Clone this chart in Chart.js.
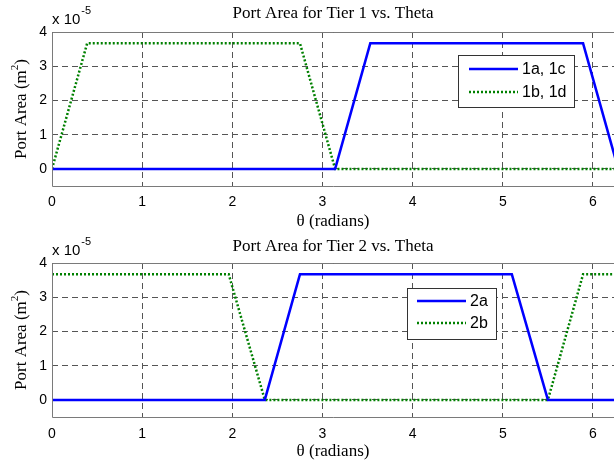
<!DOCTYPE html>
<html>
<head>
<meta charset="utf-8">
<script src="https://cdn.jsdelivr.net/npm/chart.js@4.4.1/dist/chart.umd.min.js"></script>
<style>
html,body{margin:0;padding:0;background:#fff;}
#wrap{position:relative;width:614px;height:468px;}
canvas{position:absolute;left:0;}
</style>
</head>
<body>
<div id="wrap">
<canvas id="c1" width="614" height="234" style="top:0"></canvas>
<canvas id="c2" width="614" height="234" style="top:234px"></canvas>
</div>
<script>
// ---- data (theta in radians, area in m^2) ----
const xTicks = [0, 1, 2, 3, 4, 5, 6];
const yTicks = [0, 1e-5, 2e-5, 3e-5, 4e-5];

const tier1Labels = ['1a, 1c', '1b, 1d'];
const tier1A_theta = [0, 3.14, 3.53, 5.89, 6.28];
const tier1A_area  = [0, 0, 3.67e-5, 3.67e-5, 0];
const tier1B_theta = [0, 0.39, 2.75, 3.14, 6.28];
const tier1B_area  = [0, 3.67e-5, 3.67e-5, 0, 0];

const tier2Labels = ['2a', '2b'];
const tier2A_theta = [0, 2.36, 2.75, 5.10, 5.50, 6.28];
const tier2A_area  = [0, 0, 3.67e-5, 3.67e-5, 0, 0];
const tier2B_theta = [0, 1.96, 2.36, 5.50, 5.89, 6.28];
const tier2B_area  = [3.67e-5, 3.67e-5, 0, 0, 3.67e-5, 3.67e-5];

const titles = ['Port Area for Tier 1 vs. Theta', 'Port Area for Tier 2 vs. Theta'];

function pts(xs, ys) { return xs.map((x, i) => ({x: x, y: ys[i]})); }

const SERIF = '"Liberation Serif", "Times New Roman", serif';
const SANS = '"Liberation Sans", Arial, sans-serif';

const decor = {
  id: 'decor',
  afterDraw(chart, args, o) {
    const ctx = chart.ctx, a = chart.chartArea;
    ctx.save();
    // frame
    ctx.strokeStyle = '#7a7a7a';
    ctx.lineWidth = 1;
    ctx.setLineDash([]);
    ctx.beginPath();
    ctx.moveTo(a.right, a.top + 0.5); ctx.lineTo(a.left + 0.5, a.top + 0.5);
    ctx.lineTo(a.left + 0.5, a.bottom + 0.5); ctx.lineTo(a.right, a.bottom + 0.5);
    ctx.stroke();
    const cx = (a.left + a.right) / 2;
    ctx.fillStyle = '#000';
    // title
    ctx.font = '17px ' + SERIF;
    ctx.textAlign = 'center'; ctx.textBaseline = 'middle';
    ctx.fillText(o.title, cx, o.titleY);
    // x axis title
    ctx.fillText('\u03b8 (radians)', cx, o.xTitleY);
    // exponent
    ctx.font = '15px ' + SANS;
    ctx.textAlign = 'left';
    ctx.fillText('x 10', a.left, o.expY);
    const w = ctx.measureText('x 10').width;
    ctx.font = '11px ' + SANS;
    ctx.fillText('-5', a.left + w + 1, o.expY - 9);
    // y axis title (rotated)
    ctx.translate(22, (a.top + a.bottom) / 2);
    ctx.rotate(-Math.PI / 2);
    ctx.font = '17px ' + SERIF;
    const t1 = 'Port Area (m', t2 = '2', t3 = ')';
    const w1 = ctx.measureText(t1).width, w3 = ctx.measureText(t3).width;
    ctx.font = '11px ' + SERIF;
    const w2 = ctx.measureText(t2).width;
    let x0 = -(w1 + w2 + w3) / 2;
    ctx.font = '17px ' + SERIF;
    ctx.fillText(t1, x0, 0);
    ctx.font = '11px ' + SERIF;
    ctx.fillText(t2, x0 + w1, -7);
    ctx.font = '17px ' + SERIF;
    ctx.fillText(t3, x0 + w1 + w2, 0);
    ctx.setTransform(1, 0, 0, 1, 0, 0);
    // legend
    const L = o.legend;
    ctx.fillStyle = '#fff';
    ctx.fillRect(L.x, L.y, L.w, L.h);
    ctx.strokeStyle = '#333';
    ctx.lineWidth = 1;
    ctx.strokeRect(L.x + 0.5, L.y + 0.5, L.w, L.h);
    chart.data.datasets.forEach((ds, i) => {
      const yy = L.y + L.rows[i];
      ctx.strokeStyle = ds.borderColor;
      ctx.lineWidth = ds.borderWidth;
      ctx.setLineDash(ds.borderDash || []);
      ctx.beginPath();
      ctx.moveTo(L.x + L.lx0, yy); ctx.lineTo(L.x + L.lx1, yy);
      ctx.stroke();
      ctx.setLineDash([]);
      ctx.fillStyle = '#000';
      ctx.font = '16px ' + SANS;
      ctx.textAlign = 'left'; ctx.textBaseline = 'middle';
      ctx.fillText(ds.label, L.x + L.tx, yy + 1);
    });
    ctx.restore();
  }
};

function makeChart(id, labels, aX, aY, bX, bY, title, cfg) {
  return new Chart(document.getElementById(id), {
    type: 'line',
    data: {
      datasets: [
        {label: labels[0], data: pts(aX, aY), borderColor: '#0000ff', borderWidth: 2.5,
         pointRadius: 0, tension: 0, order: 1},
        {label: labels[1], data: pts(bX, bY), borderColor: '#008000', borderWidth: 2.5,
         borderDash: [2, 2], pointRadius: 0, tension: 0, order: 2}
      ]
    },
    options: {
      responsive: false, animation: false, devicePixelRatio: 1,
      layout: {padding: {top: cfg.top, left: 0, right: 0, bottom: 0}},
      plugins: {legend: {display: false}, tooltip: {enabled: false},
        decor: {title: title, titleY: cfg.titleY, xTitleY: cfg.xTitleY, expY: cfg.expY, legend: cfg.legend}},
      scales: {
        x: {type: 'linear', min: 0, max: 6.233,
          afterBuildTicks: s => { s.ticks = xTicks.map(v => ({value: v})); },
          afterFit: s => { s.height = cfg.xh; s.paddingLeft = 0; s.paddingRight = 0; },
          ticks: {color: '#000', font: {family: SANS, size: 14}, padding: cfg.xpad, maxRotation: 0,
            callback: v => String(v)},
          grid: {color: '#555', lineWidth: 1, drawTicks: false},
          border: {display: false, dash: [6, 4]}
        },
        y: {type: 'linear', min: -0.5e-5, max: 4e-5,
          afterBuildTicks: s => { s.ticks = yTicks.map(v => ({value: v})); },
          afterFit: s => { s.width = 52; },
          ticks: {color: '#000', font: {family: SANS, size: 14}, padding: 5,
            callback: v => String(Math.round(v * 1e5))},
          grid: {color: '#555', lineWidth: 1, drawTicks: false},
          border: {display: false, dash: [6, 4]}
        }
      }
    },
    plugins: [decor]
  });
}

makeChart('c1', tier1Labels, tier1A_theta, tier1A_area, tier1B_theta, tier1B_area, titles[0],
  {top: 32, xh: 48, xpad: 8, titleY: 14, xTitleY: 222, expY: 20,
   legend: {x: 458, y: 55, w: 116, h: 52, rows: [14, 37], lx0: 11, lx1: 60, tx: 64}});
makeChart('c2', tier2Labels, tier2A_theta, tier2A_area, tier2B_theta, tier2B_area, titles[1],
  {top: 29, xh: 51, xpad: 9, titleY: 13, xTitleY: 218, expY: 17,
   legend: {x: 407, y: 54, w: 89, h: 51, rows: [13, 35], lx0: 10, lx1: 59, tx: 63}});
</script>
</body>
</html>
